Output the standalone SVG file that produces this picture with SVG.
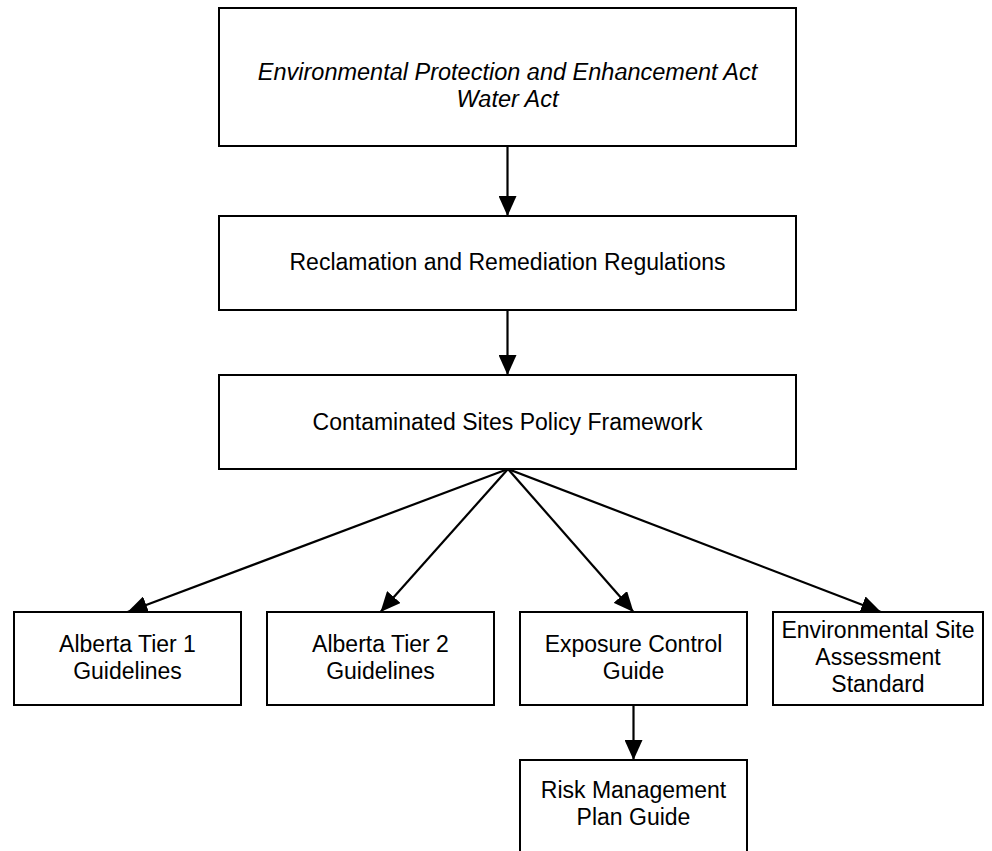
<svg xmlns="http://www.w3.org/2000/svg" width="992" height="851" viewBox="0 0 992 851">
<defs>
<style>
.box{fill:#fff;stroke:#000;stroke-width:2}
.t{font-family:"Liberation Sans",Arial,sans-serif;font-size:23px;fill:#000;text-anchor:middle}
.it{font-style:italic;font-size:23.5px}
.c{stroke:#000;stroke-width:2.2;fill:none;marker-end:url(#ah)}
</style>
<marker id="ah" markerUnits="userSpaceOnUse" markerWidth="20" markerHeight="18" refX="20" refY="9" orient="auto">
<path d="M0,0 L20,9 L0,18 z" fill="#000"/>
</marker>
</defs>
<rect width="992" height="851" fill="#fff"/>
<g id="connectors">
<line class="c" x1="507.5" y1="146" x2="507.5" y2="216"/>
<line class="c" x1="507.5" y1="310" x2="507.5" y2="375"/>
<line class="c" x1="508" y1="469" x2="127.5" y2="612"/>
<line class="c" x1="508" y1="469" x2="380.5" y2="612"/>
<line class="c" x1="508" y1="469" x2="633.5" y2="612"/>
<line class="c" x1="508" y1="469" x2="881" y2="612"/>
<line class="c" x1="633.5" y1="705" x2="633.5" y2="760"/>
</g>
<g id="acts">
<rect class="box" x="219" y="8" width="577" height="138"/>
<text class="t it" x="507.5" y="80">Environmental Protection and Enhancement Act</text>
<text class="t it" x="507.5" y="107">Water Act</text>
</g>
<g id="regulations">
<rect class="box" x="219" y="216" width="577" height="94"/>
<text class="t" x="507.5" y="270">Reclamation and Remediation Regulations</text>
</g>
<g id="framework">
<rect class="box" x="219" y="375" width="577" height="94"/>
<text class="t" x="507.5" y="430">Contaminated Sites Policy Framework</text>
</g>
<g id="tier1">
<rect class="box" x="14" y="612" width="227" height="93"/>
<text class="t" x="127.5" y="652">Alberta Tier 1</text>
<text class="t" x="127.5" y="679">Guidelines</text>
</g>
<g id="tier2">
<rect class="box" x="267" y="612" width="227" height="93"/>
<text class="t" x="380.5" y="652">Alberta Tier 2</text>
<text class="t" x="380.5" y="679">Guidelines</text>
</g>
<g id="exposure">
<rect class="box" x="520" y="612" width="227" height="93"/>
<text class="t" x="633.5" y="652">Exposure Control</text>
<text class="t" x="633.5" y="679">Guide</text>
</g>
<g id="esa">
<rect class="box" x="773" y="612" width="210" height="93"/>
<text class="t" x="878" y="638">Environmental Site</text>
<text class="t" x="878" y="665">Assessment</text>
<text class="t" x="878" y="692">Standard</text>
</g>
<g id="riskplan">
<rect class="box" x="520" y="760" width="227" height="100"/>
<text class="t" x="633.5" y="798">Risk Management</text>
<text class="t" x="633.5" y="825">Plan Guide</text>
</g>
</svg>
